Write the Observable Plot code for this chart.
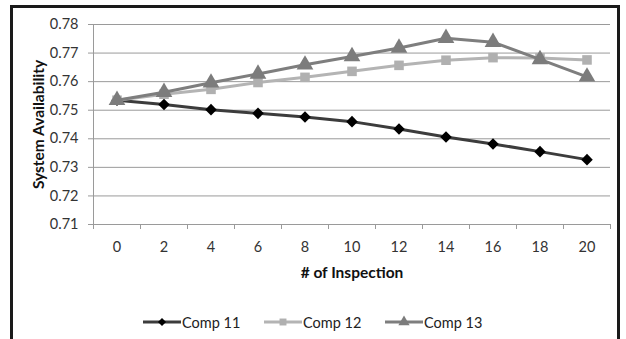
<!DOCTYPE html>
<html>
<head>
<meta charset="utf-8">
<script src="https://cdn.jsdelivr.net/npm/d3@7"></script>
<script src="https://cdn.jsdelivr.net/npm/@observablehq/plot@0.6"></script>
<style>
  html, body { margin: 0; padding: 0; background: #fff; overflow: hidden; }
  #wrap { position: relative; width: 626px; height: 339px; overflow: hidden; font-family: Lato, "Open Sans", sans-serif; }
  #frame { position: absolute; left: 10px; top: 5px; width: 610px; height: 360px; border: 3px solid #1a1a1a; box-sizing: border-box; pointer-events: none; }
  #chart { position: absolute; left: 0; top: 0; }
  #legend { position: absolute; top: 312px; left: 0; width: 626px; height: 20px; font-size: 14.5px; color: #222; }
  .item { position: absolute; display: flex; align-items: center; }
  .item svg { display: block; }
</style>
</head>
<body>
<div id="wrap">
  <div id="chart"></div>
  <div id="legend"></div>
  <div id="frame"></div>
</div>
<script>
const inspections = [0, 2, 4, 6, 8, 10, 12, 14, 16, 18, 20];
const comp11 = [0.7535, 0.7520, 0.7502, 0.7489, 0.7476, 0.7460, 0.7434, 0.7406, 0.7382, 0.7355, 0.7327];
const comp12 = [0.7535, 0.7556, 0.7573, 0.7597, 0.7615, 0.7636, 0.7657, 0.7675, 0.7684, 0.7683, 0.7676];
const comp13 = [0.7535, 0.7563, 0.7596, 0.7627, 0.7659, 0.7688, 0.7718, 0.7752, 0.7738, 0.7678, 0.7617];
const seriesNames = ["Comp 11", "Comp 12", "Comp 13"];
const yTicks = [0.71, 0.72, 0.73, 0.74, 0.75, 0.76, 0.77, 0.78];

const styles = {
  "Comp 11": {line: "#3c3c3c", fill: "#000000", symbol: "diamond2", r: 5.2},
  "Comp 12": {line: "#b4b4b4", fill: "#b0b0b0", symbol: "square", r: 5.4},
  "Comp 13": {line: "#7e7e7e", fill: "#7c7c7c", symbol: "triangle", r: 6.2}
};

const values = [comp11, comp12, comp13];
const rows = [];
seriesNames.forEach((s, i) => inspections.forEach((x, j) => rows.push({series: s, x, y: values[i][j]})));

// category band boundaries (Excel category axis ticks sit between categories)
const step = inspections[1] - inspections[0];
const xDomain = [inspections[0] - step / 2, inspections[inspections.length - 1] + step / 2];
const boundaries = [xDomain[0], ...inspections.map(v => v + step / 2)];

const marks = [
  Plot.gridY(yTicks, {stroke: "#9a9a9a", strokeOpacity: 1, strokeWidth: 1}),
  Plot.ruleX([xDomain[0]], {stroke: "#9a9a9a", strokeWidth: 1}),
  Plot.axisY({ticks: yTicks, tickFormat: d3.format(".2f"), tickSize: 5, tickPadding: 10,
    stroke: "#9a9a9a", fontSize: 14.5, fill: "#333",
    label: "System Availability", labelAnchor: "center", labelOffset: 61, labelArrow: "none"}),
  Plot.axisX({ticks: boundaries, tickFormat: () => "", tickSize: 5, stroke: "#9a9a9a", label: null}),
  Plot.axisX({ticks: inspections, tickSize: 0, tickPadding: 17, fontSize: 14.5, fill: "#333",
    label: "# of Inspection", labelAnchor: "center", labelOffset: 53, labelArrow: "none"})
];
for (const s of seriesNames) {
  const st = styles[s];
  const data = rows.filter(d => d.series === s);
  marks.push(Plot.line(data, {x: "x", y: "y", stroke: st.line, strokeWidth: 3}));
  marks.push(Plot.dot(data, {x: "x", y: "y", symbol: () => st.symbol, fill: st.fill, r: st.r, stroke: "none"}));
}

const chart = Plot.plot({
  width: 626,
  height: 300,
  marginLeft: 93,
  marginRight: 16,
  marginTop: 24,
  marginBottom: 76,
  style: {fontFamily: "Lato, 'Open Sans', sans-serif", fontSize: "14px", background: "transparent"},
  x: {type: "linear", domain: xDomain},
  y: {domain: [yTicks[0], yTicks[yTicks.length - 1]]},
  symbol: {type: "identity"},
  marks
});
chart.querySelectorAll("g[aria-label='y-axis label'] text, g[aria-label='x-axis label'] text").forEach(t => {
  t.style.fontWeight = "bold";
  t.style.fill = "#111";
  t.style.fontSize = "15.5px";
});
document.getElementById("chart").appendChild(chart);

// legend
const legendPos = {"Comp 11": 143, "Comp 12": 264, "Comp 13": 385};
const legend = document.getElementById("legend");
for (const s of seriesNames) {
  const st = styles[s];
  const item = document.createElement("div");
  item.className = "item";
  item.style.left = legendPos[s] + "px";
  const svg = d3.create("svg").attr("width", 38).attr("height", 20);
  svg.append("line").attr("x1", 0).attr("x2", 38).attr("y1", 10).attr("y2", 10)
    .attr("stroke", st.line).attr("stroke-width", 3);
  const sym = {diamond2: d3.symbolDiamond2, square: d3.symbolSquare, triangle: d3.symbolTriangle}[st.symbol];
  const size = {diamond2: 42, square: 48, triangle: 55}[st.symbol];
  svg.append("path").attr("d", d3.symbol(sym, size)()).attr("transform", "translate(19,10)").attr("fill", st.fill);
  item.appendChild(svg.node());
  const label = document.createElement("span");
  label.textContent = s;
  label.style.marginLeft = "1px";
  item.appendChild(label);
  legend.appendChild(item);
}
</script>
</body>
</html>
